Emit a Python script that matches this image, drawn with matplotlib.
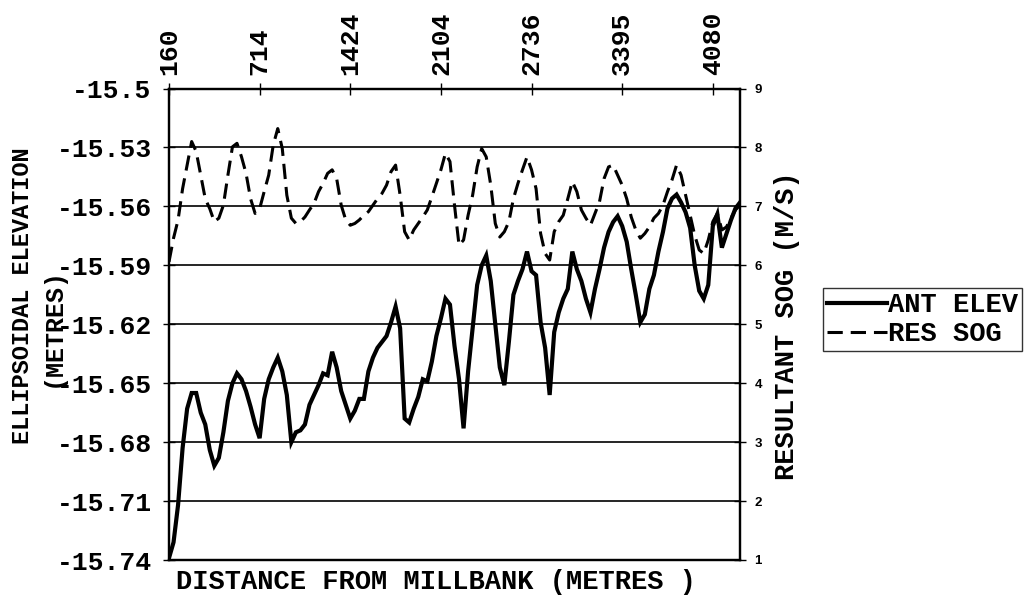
import matplotlib
matplotlib.use("Agg")
import matplotlib.pyplot as plt
import numpy as np

# ---- data (sampled along track, category axis) ----
ant_elev = [-15.739, -15.731, -15.712, -15.683, -15.663, -15.655, -15.655, -15.665, -15.671, -15.684,
            -15.692, -15.688, -15.675, -15.659, -15.650, -15.645, -15.648, -15.654, -15.662, -15.671,
            -15.678, -15.658, -15.648, -15.642, -15.637, -15.644, -15.656, -15.680, -15.675, -15.674,
            -15.671, -15.661, -15.656, -15.651, -15.645, -15.646, -15.634, -15.642, -15.654, -15.661,
            -15.668, -15.664, -15.658, -15.658, -15.644, -15.637, -15.632, -15.629, -15.626, -15.619,
            -15.611, -15.622, -15.668, -15.670, -15.663, -15.657, -15.648, -15.649, -15.639, -15.626,
            -15.617, -15.607, -15.610, -15.631, -15.648, -15.673, -15.644, -15.622, -15.600, -15.590,
            -15.585, -15.598, -15.620, -15.642, -15.651, -15.629, -15.605, -15.598, -15.592, -15.583,
            -15.593, -15.595, -15.619, -15.632, -15.656, -15.624, -15.614, -15.607, -15.602, -15.583,
            -15.592, -15.598, -15.607, -15.614, -15.602, -15.592, -15.581, -15.573, -15.568, -15.565,
            -15.570, -15.578, -15.592, -15.605, -15.619, -15.615, -15.602, -15.595, -15.583, -15.573,
            -15.561, -15.556, -15.554, -15.558, -15.563, -15.571, -15.590, -15.603, -15.607, -15.600,
            -15.570, -15.564, -15.581, -15.574, -15.567, -15.561, -15.558]

res_sog = [6.06, 6.46, 6.77, 7.30, 7.70, 8.10, 7.93, 7.53, 7.13, 6.96,
           6.74, 6.80, 7.02, 7.53, 8.01, 8.07, 7.84, 7.56, 7.13, 6.88,
           6.96, 7.25, 7.53, 8.04, 8.32, 7.98, 7.19, 6.80, 6.71, 6.74,
           6.82, 6.94, 7.05, 7.25, 7.39, 7.56, 7.62, 7.47, 7.02, 6.77,
           6.68, 6.71, 6.77, 6.85, 6.91, 7.02, 7.13, 7.22, 7.36, 7.59,
           7.70, 7.19, 6.57, 6.43, 6.60, 6.71, 6.82, 6.94, 7.16, 7.39,
           7.62, 7.90, 7.76, 7.02, 6.34, 6.43, 6.85, 7.19, 7.67, 7.98,
           7.84, 7.36, 6.71, 6.48, 6.57, 6.74, 7.13, 7.39, 7.62, 7.84,
           7.62, 7.30, 6.54, 6.20, 6.09, 6.57, 6.74, 6.85, 7.13, 7.42,
           7.25, 6.94, 6.80, 6.68, 6.88, 7.08, 7.47, 7.67, 7.70, 7.53,
           7.36, 7.13, 6.82, 6.60, 6.46, 6.54, 6.65, 6.80, 6.88, 7.02,
           7.25, 7.45, 7.70, 7.53, 7.19, 6.85, 6.51, 6.26, 6.20, 6.43,
           6.74, 6.88, 6.60, 6.65, 6.80, 6.94, 7.02]

tick_labels = ['160', '714', '1424', '2104', '2736', '3395', '4080']
tick_every = 20

left_ticks = [-15.74, -15.71, -15.68, -15.65, -15.62, -15.59, -15.56, -15.53, -15.5]
left_tick_labels = ['-15.74', '-15.71', '-15.68', '-15.65', '-15.62', '-15.59', '-15.56', '-15.53', '-15.5']
right_ticks = [1, 2, 3, 4, 5, 6, 7, 8, 9]

mono = 'Liberation Mono'
fw = 'bold'

fig = plt.figure(figsize=(10.30, 6.05), dpi=100)
ax = fig.add_axes([169/1030, 45/605, (740-169)/1030, (560-88.5)/605])

x = np.arange(len(ant_elev))
l1, = ax.plot(x, ant_elev, color='black', lw=3.0, solid_joinstyle='miter', zorder=3)
ax.set_xlim(0, 126)
ax.set_ylim(-15.74, -15.5)
ax.set_yticks(left_ticks)
ax.set_yticklabels(left_tick_labels, fontfamily=mono, fontsize=19, fontweight=fw)
ax.yaxis.grid(True, color='black', lw=1.2)
ax.set_axisbelow(True)
ax.tick_params(axis='y', direction='inout', length=9, width=1, pad=8)

ax.xaxis.tick_top()
pos = list(range(0, tick_every * len(tick_labels), tick_every))
ax.set_xticks(pos)
ax.set_xticklabels(tick_labels, rotation=90, fontfamily=mono, fontsize=19, fontweight=fw)
ax.tick_params(axis='x', direction='inout', length=9, width=1, pad=5)

for s in ax.spines.values():
    s.set_linewidth(1.6)
    s.set_color('black')

ax2 = ax.twinx()
l2, = ax2.plot(x, res_sog, color='black', lw=2.2, linestyle=(0, (5, 2.6)), zorder=3)
ax2.set_ylim(1, 9)
ax2.set_yticks(right_ticks)
ax2.set_yticklabels([str(t) for t in right_ticks], fontfamily='Liberation Sans',
                    fontweight='bold', fontsize=9.5)
ax2.tick_params(axis='y', direction='inout', length=9, width=1, pad=6)
ax2.set_xlim(0, 126)
for s in ax2.spines.values():
    s.set_linewidth(1.6)

fig.text(23/1030, 1-296/605, 'ELLIPSOIDAL ELEVATION', rotation=90, ha='center', va='center',
         fontfamily=mono, fontsize=17, fontweight=fw)
fig.text(53/1030, 1-327/605, '(METRES)', rotation=90, ha='center', va='center',
         fontfamily=mono, fontsize=18, fontweight=fw)
fig.text(787/1030, 1-326/605, 'RESULTANT SOG (M/S)', rotation=90, ha='center', va='center',
         fontfamily=mono, fontsize=19.5, fontweight=fw)
fig.text(436/1030, 1-582/605, 'DISTANCE FROM MILLBANK (METRES )', ha='center', va='center',
         fontfamily=mono, fontsize=19.5, fontweight=fw)

leg = fig.legend([l1, l2], ['ANT ELEV', 'RES SOG'], loc='upper left',
                 bbox_to_anchor=(823/1030, 1-288/605),
                 prop={'family': mono, 'size': 19.5, 'weight': fw},
                 frameon=True, fancybox=False, handlelength=2.2, handletextpad=0.05,
                 labelspacing=0.12, borderpad=0.15, borderaxespad=0)
leg.get_frame().set_edgecolor('black')
leg.get_frame().set_linewidth(1.0)

fig.savefig('out.png', dpi=100)
